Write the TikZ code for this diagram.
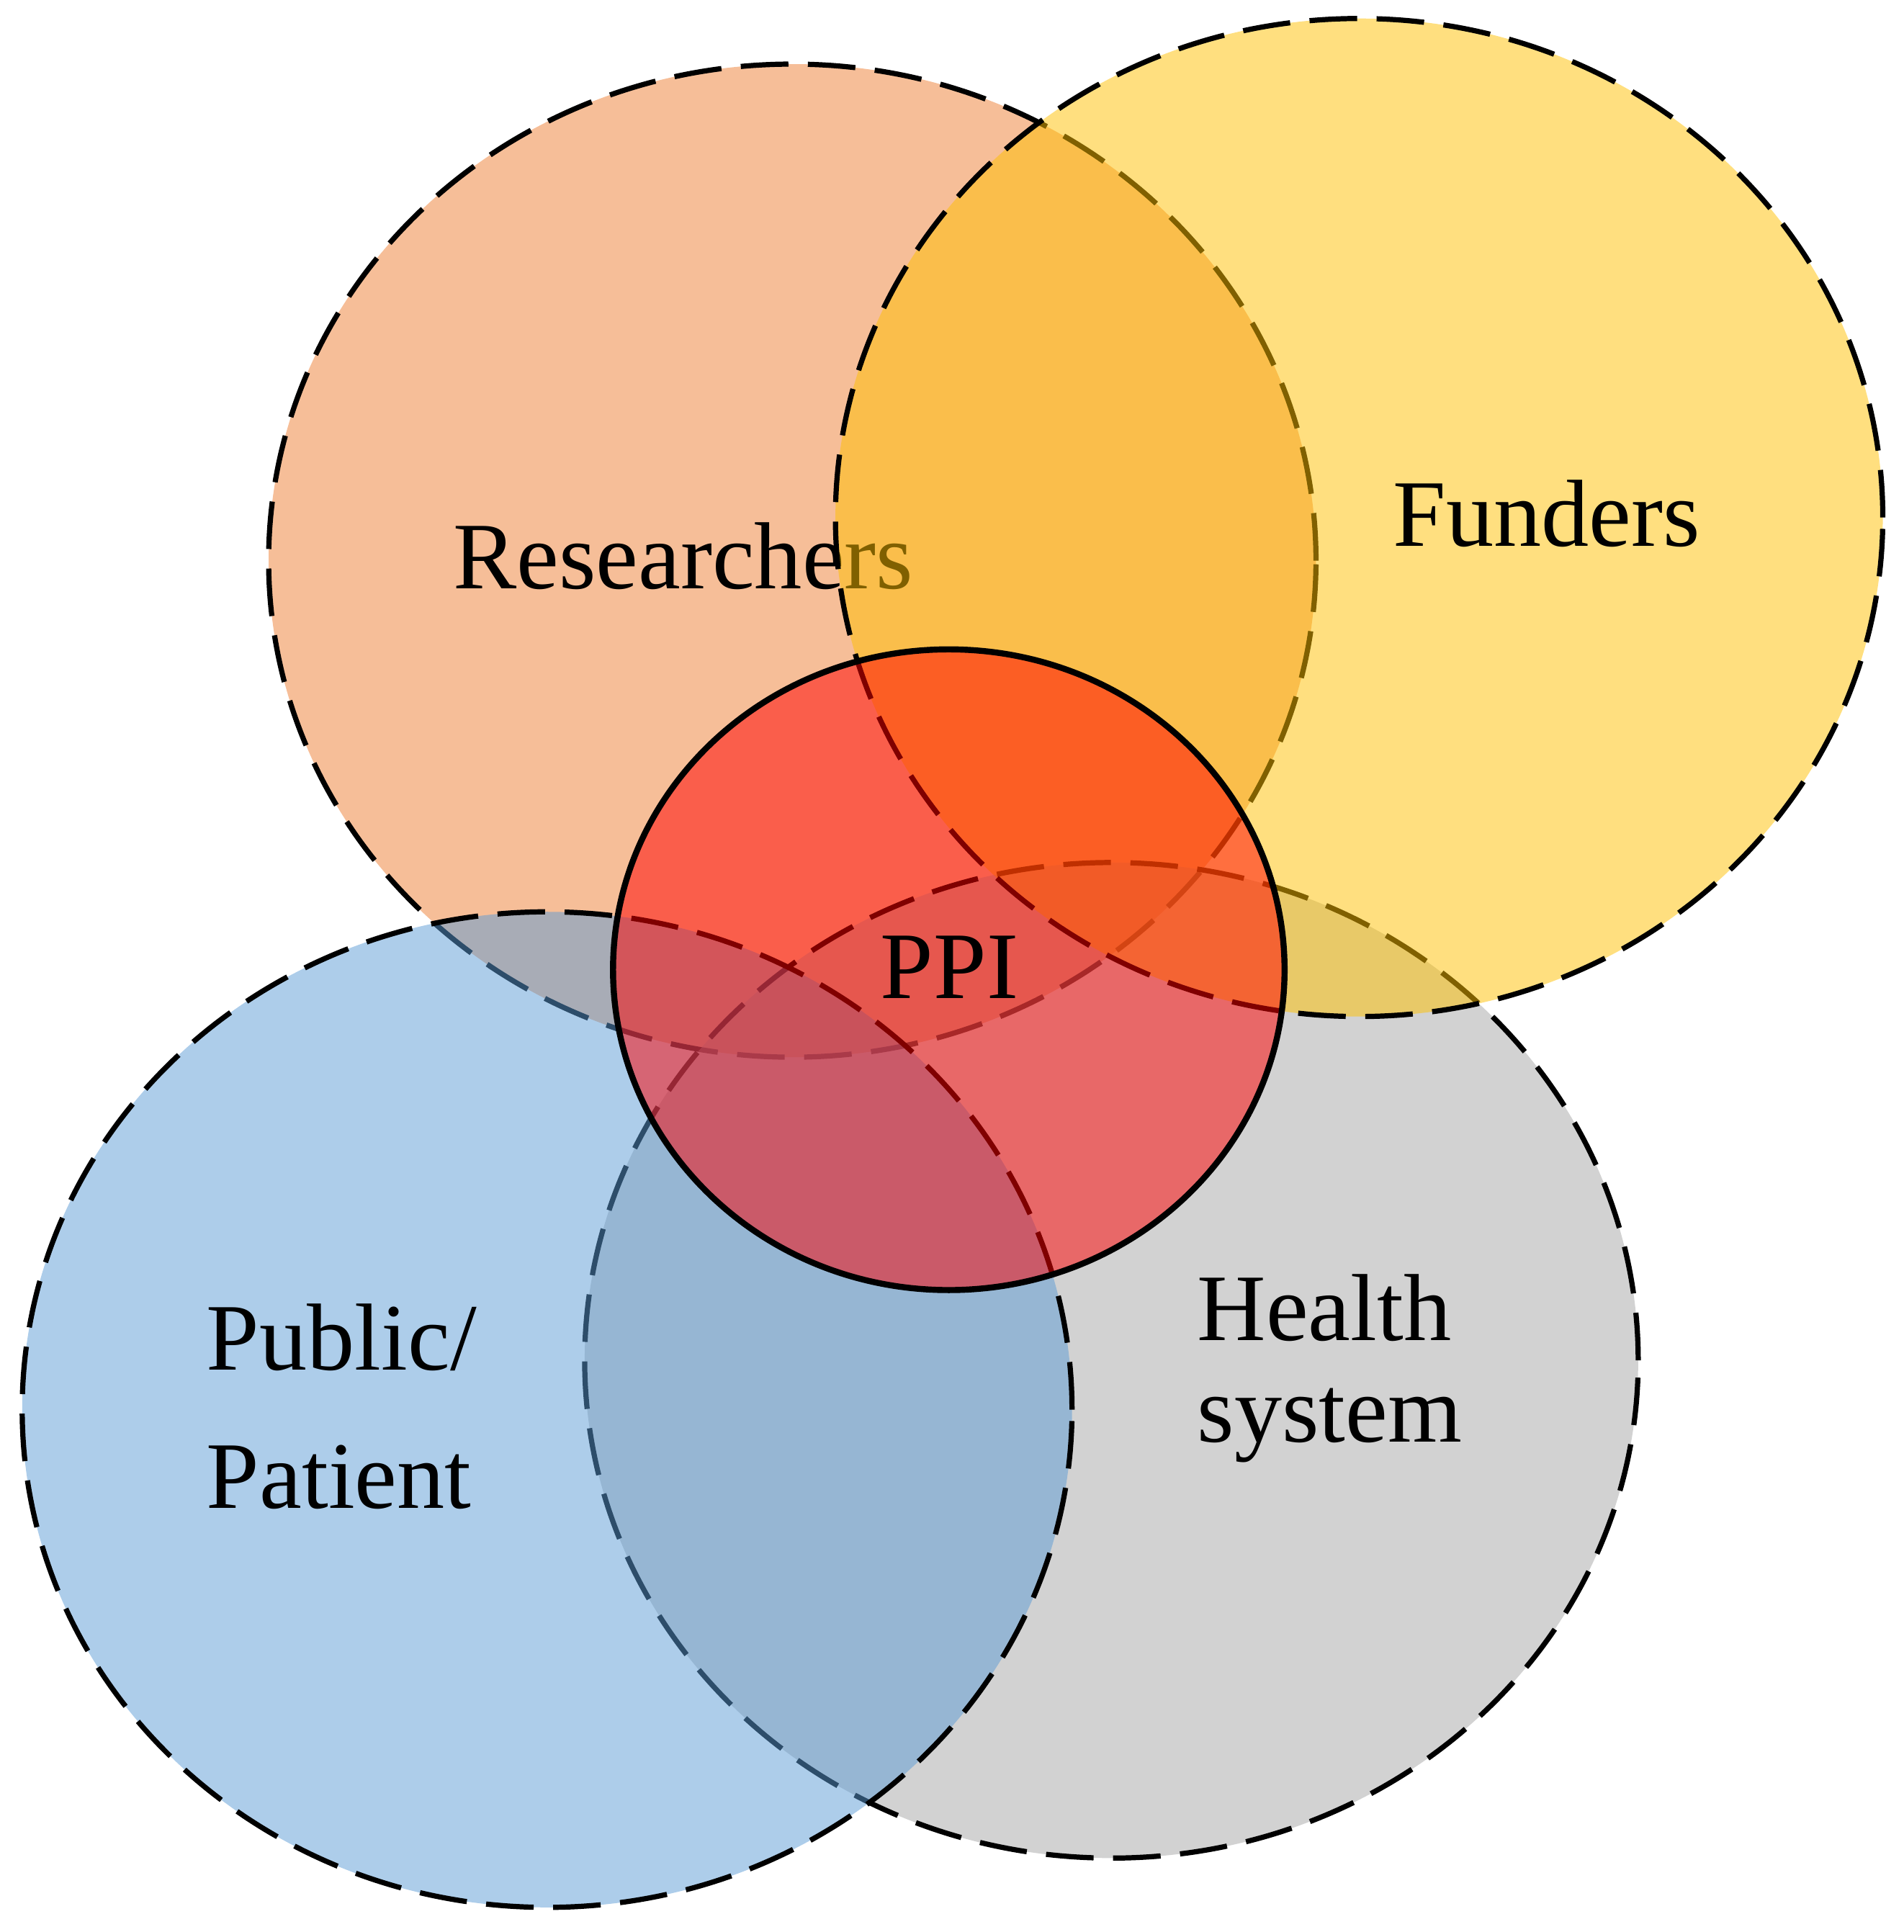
\documentclass[tikz,border=0pt]{standalone}
\usepackage{fontspec}
\setmainfont{Liberation Serif}
\usepackage{tikz}
\usetikzlibrary{shapes.geometric,positioning}
\definecolor{resorange}{HTML}{ED7D31}
\definecolor{fundgold}{HTML}{FFC000}
\definecolor{healthgrey}{HTML}{A5A5A5}
\definecolor{pubblue}{HTML}{5B9BD5}
\definecolor{ppired}{HTML}{FF0000}
\tikzset{
    group/.style={ellipse, draw, dash pattern=on 11pt off 4.5pt, line width=1.2pt,
        fill opacity=0.5, inner sep=0pt, outer sep=0pt},
    core/.style={ellipse, draw, line width=1.4pt, fill=ppired, fill opacity=0.5,
        inner sep=0pt, outer sep=0pt, minimum width=5.45cm, minimum height=5.2cm},
    lbl/.style={anchor=base west, inner sep=0pt, font=\fontsize{22}{26}\selectfont}
}
\begin{document}
\begin{tikzpicture}[x=0.1mm, y=-0.1mm]
    \useasboundingbox (0,0) rectangle (1545,1568);

    % Researchers
    \node[group, fill=resorange, minimum width=8.5cm, minimum height=8.06cm] (res) at (643,455) {};
    \node[lbl] (reslbl) at (367,478) {Researchers};

    % Health system
    \node[group, fill=healthgrey, minimum width=8.55cm, minimum height=8.08cm] (hea) at (902,1104) {};
    \node[lbl, align=left, font=\fontsize{22}{23.3}\selectfont] (healbl) at (971,1170) {Health\\system};

    % Funders
    \node[group, fill=fundgold, minimum width=8.5cm, minimum height=8.1cm] (fun) at (1103,420) {};
    \node[lbl] (funlbl) at (1130,443) {Funders};

    % Public/Patient
    \node[group, fill=pubblue, minimum width=8.52cm, minimum height=8.08cm] (pub) at (444,1144) {};
    \node[lbl, align=left, font=\fontsize{22}{31.9}\selectfont] (publbl) at (167,1224) {Public/\\Patient};

    % PPI
    \node[core] (ppi) at (770,787) {};
    \node[lbl] (ppilbl) at (714,810) {PPI};
\end{tikzpicture}
\end{document}
